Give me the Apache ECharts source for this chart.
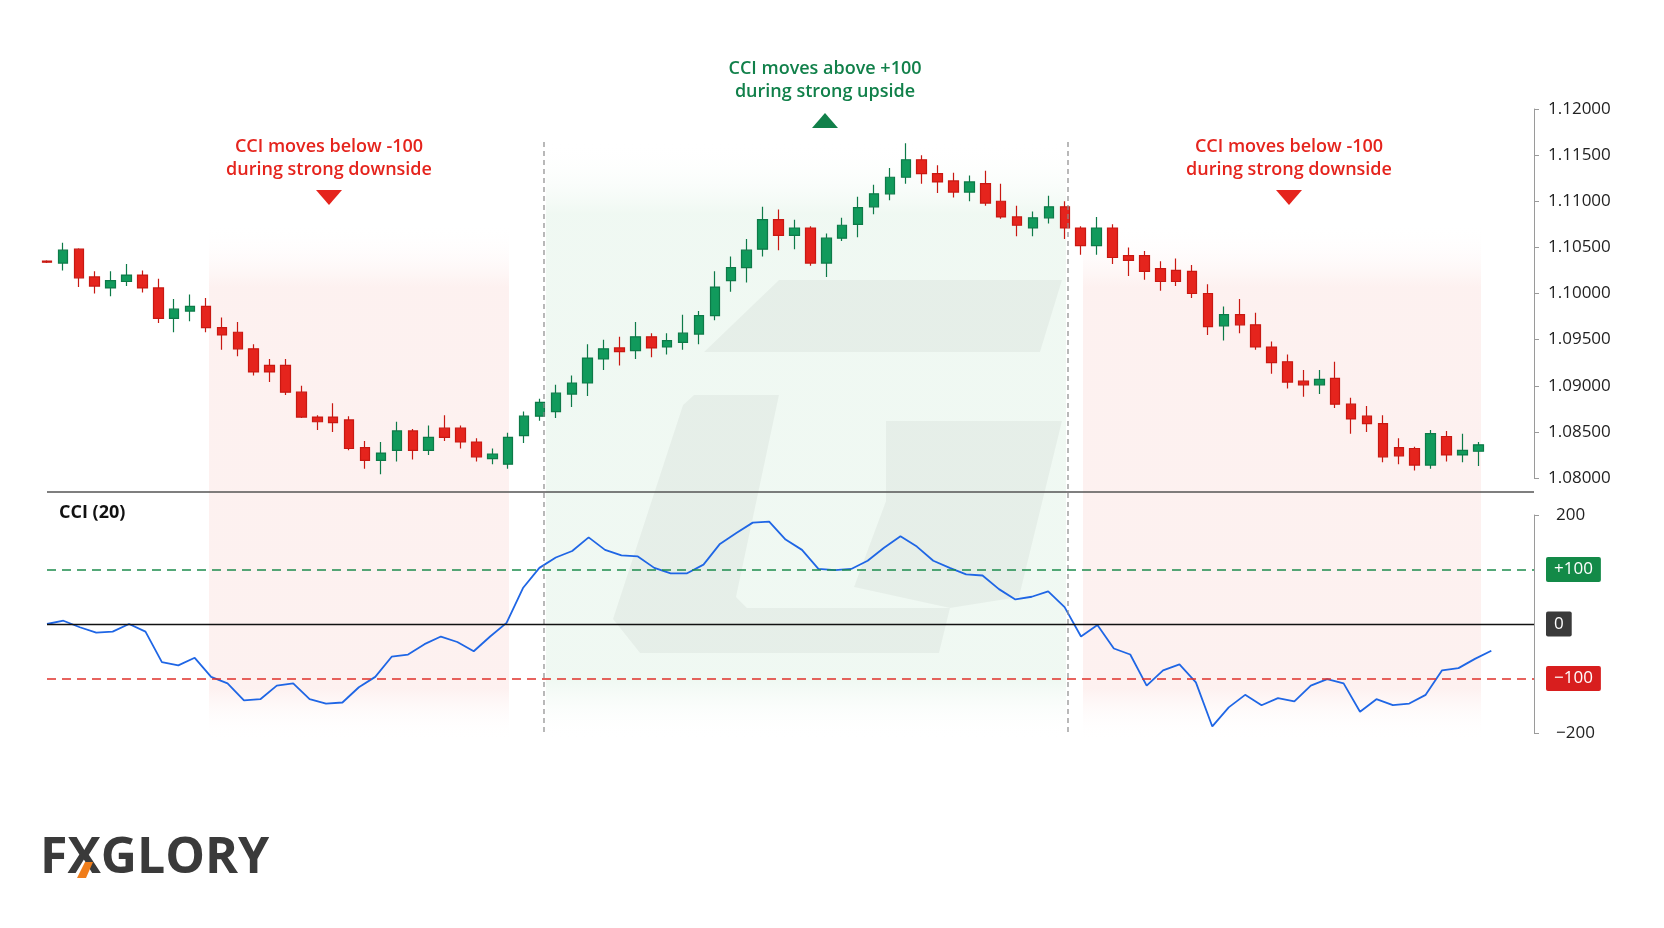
<!DOCTYPE html>
<html>
<head>
<meta charset="utf-8">
<script src="https://cdn.jsdelivr.net/npm/echarts@6/dist/echarts.min.js"></script>
<style>
  html, body { margin: 0; padding: 0; background: #fff; }
  #chart { width: 1664px; height: 928px; }
</style>
</head>
<body>
<div id="chart"></div>
<script>
// price candles (EUR/USD style)
const opens = [1.1035,1.1033,1.1048,1.1018,1.1006,1.1013,1.1020,1.1006,1.0973,1.0981,1.0986,1.0963,1.0958,1.0940,1.0922,1.0922,1.0893,1.0866,1.0866,1.0863,
  1.0833,1.0819,1.0830,1.0851,1.0830,1.0854,1.0854,1.0839,1.0821,1.0815,1.0846,1.0867,1.0872,1.0891,1.0903,1.0929,1.0941,1.0938,1.0953,1.0942,
  1.0947,1.0956,1.0976,1.1014,1.1028,1.1048,1.1080,1.1063,1.1071,1.1033,1.1060,1.1075,1.1094,1.1108,1.1126,1.1145,1.1130,1.1122,1.1110,1.1119,
  1.1100,1.1083,1.1071,1.1082,1.1094,1.1071,1.1052,1.1071,1.1041,1.1041,1.1027,1.1025,1.1024,1.1000,1.0965,1.0977,1.0966,1.0942,1.0926,1.0905,
  1.0901,1.0908,1.0880,1.0867,1.0859,1.0833,1.0832,1.0814,1.0845,1.0825,1.0829];
const closes = [1.1034,1.1047,1.1017,1.1008,1.1014,1.1020,1.1006,1.0973,1.0983,1.0986,1.0963,1.0955,1.0940,1.0915,1.0915,1.0893,1.0866,1.0861,1.0860,1.0832,
  1.0819,1.0827,1.0851,1.0830,1.0844,1.0844,1.0839,1.0823,1.0826,1.0844,1.0867,1.0882,1.0892,1.0903,1.0930,1.0940,1.0937,1.0953,1.0941,1.0949,
  1.0957,1.0976,1.1007,1.1028,1.1047,1.1080,1.1063,1.1071,1.1033,1.1060,1.1074,1.1093,1.1108,1.1126,1.1145,1.1130,1.1121,1.1110,1.1121,1.1098,
  1.1083,1.1074,1.1082,1.1094,1.1071,1.1052,1.1071,1.1039,1.1036,1.1024,1.1013,1.1013,1.1000,1.0964,1.0977,1.0966,1.0942,1.0925,1.0904,1.0901,
  1.0907,1.0880,1.0864,1.0859,1.0823,1.0824,1.0814,1.0848,1.0825,1.0830,1.0836];
const lows = [1.1033,1.1025,1.1007,1.1000,1.0997,1.1008,1.1001,1.0968,1.0958,1.0970,1.0958,1.0939,1.0932,1.0911,1.0904,1.0890,1.0865,1.0852,1.0850,1.0830,
  1.0810,1.0804,1.0818,1.0820,1.0825,1.0840,1.0832,1.0818,1.0815,1.0810,1.0838,1.0862,1.0865,1.0877,1.0889,1.0917,1.0922,1.0929,1.0931,1.0934,
  1.0939,1.0945,1.0971,1.1002,1.1012,1.1040,1.1047,1.1048,1.1030,1.1018,1.1057,1.1061,1.1086,1.1101,1.1119,1.1119,1.1109,1.1104,1.1100,1.1095,
  1.1081,1.1062,1.1062,1.1076,1.1059,1.1042,1.1042,1.1032,1.1019,1.1015,1.1003,1.1008,1.0995,1.0955,1.0949,1.0957,1.0939,1.0913,1.0897,1.0888,
  1.0891,1.0876,1.0848,1.0850,1.0817,1.0815,1.0808,1.0810,1.0818,1.0817,1.0813];
const highs = [1.1036,1.1055,1.1049,1.1024,1.1024,1.1032,1.1025,1.1016,1.0994,1.0999,1.0995,1.0974,1.0969,1.0945,1.0929,1.0929,1.0900,1.0868,1.0881,1.0867,
  1.0840,1.0839,1.0861,1.0853,1.0857,1.0868,1.0857,1.0843,1.0832,1.0849,1.0872,1.0886,1.0901,1.0911,1.0945,1.0950,1.0953,1.0969,1.0957,1.0957,
  1.0977,1.0981,1.1024,1.1040,1.1059,1.1094,1.1091,1.1080,1.1073,1.1065,1.1082,1.1105,1.1118,1.1136,1.1163,1.1150,1.1139,1.1131,1.1128,1.1133,
  1.1119,1.1095,1.1089,1.1106,1.1100,1.1073,1.1083,1.1075,1.1050,1.1046,1.1035,1.1038,1.1031,1.1010,1.0986,1.0994,1.0979,1.0948,1.0934,1.0917,
  1.0917,1.0926,1.0887,1.0878,1.0868,1.0843,1.0834,1.0852,1.0851,1.0848,1.0839];

// CCI (20) values
const cci = [0,6,-6,-16,-14,0,-14,-70,-76,-62,-97,-109,-140,-138,-113,-109,-138,-146,-144,-116,
  -97,-60,-56,-37,-23,-33,-50,-23,2,66,103,122,134,159,136,126,124,103,93,93,
  109,147,167,186,188,155,136,101,99,101,116,140,161,142,116,103,91,89,64,45,
  50,60,31,-23,-2,-45,-56,-113,-85,-74,-107,-188,-153,-130,-149,-136,-142,-113,-101,-109,
  -161,-138,-149,-146,-130,-85,-81,-64,-49];

const cciLevels = [100, 0, -100];
const cciBadges = ['+100', '0', '\u2212100'];

const SLOTS = 94;
const cats = Array.from({ length: SLOTS }, (_, i) => String(i));
const candleData = cats.map((_, i) => i < opens.length ? [opens[i], closes[i], lows[i], highs[i]] : '-');
const cciData = cci.map((v, i) => [i, v]);

const GREEN = '#119a5c', RED = '#e5241d';
const FONT = '"Open Sans", "Noto Sans", sans-serif';

function zone(x, w, top, color) {
  return {
    type: 'rect', z: -10, silent: true,
    shape: { x: x, y: top, width: w, height: 740 - top },
    style: {
      fill: new echarts.graphic.LinearGradient(0, 0, 0, 1, [
        { offset: 0, color: 'rgba(255,255,255,0)' },
        { offset: 0.12, color: color },
        { offset: 0.9, color: color },
        { offset: 1, color: 'rgba(255,255,255,0)' }
      ])
    }
  };
}
function note(x, y, lines, color) {
  return {
    type: 'text', x: x, y: y, z: 20,
    style: { text: lines.join('\n'), fill: color, font: '600 18px ' + FONT, align: 'center', lineHeight: 23 }
  };
}
function vdash(x) {
  return { type: 'line', z: 5, shape: { x1: x, y1: 142, x2: x, y2: 732 },
    style: { stroke: '#8a8a8a', lineWidth: 1.2, lineDash: [5, 4] } };
}
function mark(points) {
  return { type: 'polygon', z: -5, silent: true, shape: { points: points }, style: { fill: 'rgba(0,0,0,0.04)' } };
}

const chart = echarts.init(document.getElementById('chart'));
chart.setOption({
  animation: false,
  backgroundColor: '#ffffff',
  grid: [
    { left: 39, width: 1495, top: 109, bottom: 450 },
    { left: 47, width: 1487, top: 515, bottom: 195 }
  ],
  xAxis: [
    { type: 'category', gridIndex: 0, data: cats, boundaryGap: true, show: false },
    { type: 'value', gridIndex: 1, min: 0, max: 90.6, show: false }
  ],
  yAxis: [
    { type: 'value', gridIndex: 0, position: 'right', min: 1.08, max: 1.12, interval: 0.005,
      splitLine: { show: false },
      axisLine: { show: true, onZero: false, lineStyle: { color: '#9a9a9a' } },
      axisTick: { show: true, length: 5, lineStyle: { color: '#9a9a9a' } },
      axisLabel: { margin: 14, color: '#222', fontSize: 17, fontFamily: FONT, formatter: v => v.toFixed(5) } },
    { type: 'value', gridIndex: 1, position: 'right', min: -200, max: 200, interval: 100,
      splitLine: { show: false },
      axisLine: { show: true, onZero: false, lineStyle: { color: '#9a9a9a' } },
      axisTick: { show: true, length: 5, lineStyle: { color: '#9a9a9a' }, customValues: [-200, 200] },
      axisLabel: { margin: 22, color: '#222', fontSize: 17, fontFamily: FONT,
        customValues: [-200, 200],
        formatter: v => (v < 0 ? '\u2212' + Math.abs(v) : String(v)) } }
  ],
  graphic: [
    zone(209, 300, 225, 'rgba(250,215,212,0.35)'),
    zone(546, 520, 142, 'rgba(215,238,222,0.38)'),
    zone(1083, 398, 225, 'rgba(250,215,212,0.35)'),
    mark([[779, 280], [1062, 280], [1040, 352], [704, 352]]),
    mark([[694, 395], [779, 395], [736, 597], [747, 608], [950, 608], [939, 653], [640, 653], [613, 619], [683, 405]]),
    mark([[886, 421], [1062, 421], [1019, 597], [950, 608], [854, 587], [886, 501]]),
    vdash(544), vdash(1068),
    { type: 'line', z: 6, shape: { x1: 47, y1: 492, x2: 1534, y2: 492 }, style: { stroke: '#555', lineWidth: 1.4 } },
    note(329, 135, ['CCI moves below -100', 'during strong downside'], RED),
    note(825, 57, ['CCI moves above +100', 'during strong upside'], '#11804a'),
    note(1289, 135, ['CCI moves below -100', 'during strong downside'], RED),
    { type: 'polygon', z: 20, shape: { points: [[316, 190], [342, 190], [329, 205]] }, style: { fill: RED } },
    { type: 'polygon', z: 20, shape: { points: [[1276, 190], [1302, 190], [1289, 205]] }, style: { fill: RED } },
    { type: 'polygon', z: 20, shape: { points: [[812, 128], [838, 128], [825, 113]] }, style: { fill: '#11804a' } },
    { type: 'text', x: 59, y: 504, z: 20, style: { text: 'CCI (20)', fill: '#111', font: '700 18px ' + FONT } },
    { type: 'text', x: 40, y: 834, z: 20, style: { text: 'FXGLORY', fill: '#3a3a3a', font: '700 50px ' + FONT } },
    { type: 'polygon', z: 21, shape: { points: [[77, 878], [85, 862], [93, 862], [86, 878]] }, style: { fill: '#f07d1a' } }
  ],
  series: [
    {
      type: 'candlestick', xAxisIndex: 0, yAxisIndex: 0, data: candleData, barWidth: 10,
      itemStyle: { color: GREEN, color0: RED, borderColor: '#0d7a48', borderColor0: '#c81812', borderWidth: 1.2 }
    },
    {
      type: 'line', xAxisIndex: 1, yAxisIndex: 1, data: cciData, symbol: 'none',
      lineStyle: { color: '#1f66e5', width: 1.8 }, z: 4,
      markLine: {
        silent: true, symbol: 'none',
        data: cciLevels.map((lv, i) => ({
          yAxis: lv,
          lineStyle: lv === 0 ? { color: '#111', type: 'solid', width: 1.4 }
            : { color: lv > 0 ? '#1c8c4c' : '#e0302a', type: [9, 6], width: 1.6 },
          label: {
            show: true, position: 'end', distance: 12, formatter: cciBadges[i],
            color: '#fff', fontSize: 17, fontFamily: FONT, fontWeight: 500,
            backgroundColor: lv === 0 ? '#3a3a3a' : (lv > 0 ? '#138a48' : '#d81e1e'),
            padding: [4, 8], borderRadius: 2
          }
        }))
      }
    }
  ]
});
</script>
</body>
</html>
